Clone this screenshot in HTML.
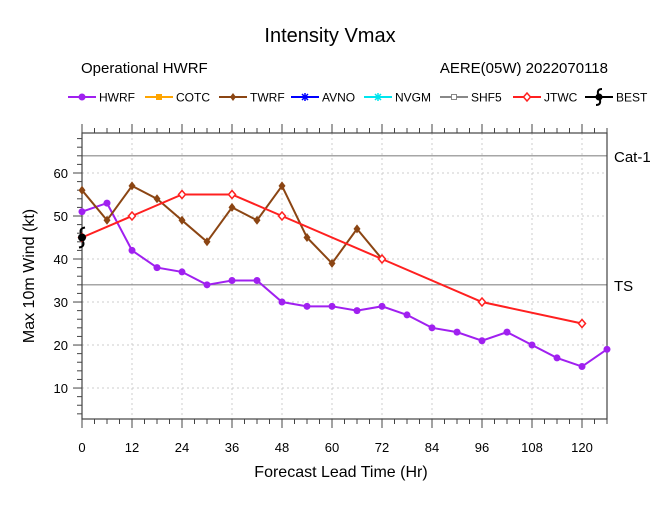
<!DOCTYPE html>
<html><head><meta charset="utf-8"><style>
body{margin:0;background:#fff;font-family:"Liberation Sans",sans-serif;}
svg{display:block}
</style></head><body>
<svg id="c" width="661" height="507" xmlns="http://www.w3.org/2000/svg" font-family="Liberation Sans, sans-serif">
<text x="330" y="42" font-size="20" text-anchor="middle">Intensity Vmax</text>
<text x="81" y="73" font-size="15">Operational HWRF</text>
<text x="608" y="73" font-size="15" text-anchor="end">AERE(05W) 2022070118</text>
<g id="legend"></g>
<g id="plot"></g>
<text x="341" y="477" font-size="16" text-anchor="middle">Forecast Lead Time (Hr)</text>
<text transform="translate(34,276) rotate(-90)" font-size="16" text-anchor="middle">Max 10m Wind (kt)</text>
</svg>
<script>
const hwrfHours=[0,6,12,18,24,30,36,42,48,54,60,66,72,78,84,90,96,102,108,114,120,126];
const hwrfVals=[51,53,42,38,37,34,35,35,30,29,29,28,29,27,24,23,21,23,20,17,15,19];
const twrfHours=[0,6,12,18,24,30,36,42,48,54,60,66,72];
const twrfVals=[56,49,57,54,49,44,52,49,57,45,39,47,40];
const jtwcHours=[0,12,24,36,48,72,96,120];
const jtwcVals=[45,50,55,55,50,40,30,25];
const bestHours=[0];
const bestVals=[45];
const xTicks=[0,12,24,36,48,60,72,84,96,108,120];
const yTicks=[10,20,30,40,50,60];
const X0=82,X1=607,Y0=419,Y1=133,XMIN=0,XMAX=126,YMIN=2.8,YMAX=69.3;
const xs=v=>X0+(v-XMIN)/(XMAX-XMIN)*(X1-X0);
const ys=v=>Y0-(v-YMIN)/(YMAX-YMIN)*(Y0-Y1);
const NS='http://www.w3.org/2000/svg';
const plot=document.getElementById('plot');
function mk(t,a,p){const e=document.createElementNS(NS,t);for(const k in a)e.setAttribute(k,a[k]);(p||plot).appendChild(e);return e;}
// grid
xTicks.forEach(t=>{if(t>0){const g=mk('line',{x1:xs(t),x2:xs(t),y1:Y1,y2:Y0,stroke:'#ccc','stroke-dasharray':'2,3'});

}});
yTicks.forEach(t=>{const g=mk('line',{x1:X0,x2:X1,y1:ys(t),y2:ys(t),stroke:'#ccc','stroke-dasharray':'2,3'});

});
// ref lines
[[64,'Cat-1'],[34,'TS']].forEach(r=>{const l=mk('line',{x1:X0,x2:X1,y1:ys(r[0]),y2:ys(r[0]),stroke:'#888','stroke-width':1.2});


const t=mk('text',{x:614,y:ys(r[0])+6,'font-size':15});t.textContent=r[1];

});
// ticks
for(let h=0;h<=126;h+=3){const maj=h%12==0;const len=maj?9:5;
mk('line',{x1:xs(h),x2:xs(h),y1:Y0,y2:Y0+len,stroke:'#444'});
mk('line',{x1:xs(h),x2:xs(h),y1:Y1,y2:Y1-len,stroke:'#444'});}
for(let v=4;v<=68;v+=2){const maj=v%10==0;mk('line',{x1:X0,x2:X0-(maj?9:5),y1:ys(v),y2:ys(v),stroke:'#444'});}
xTicks.forEach(t=>{const e=mk('text',{x:xs(t),y:Y0+33,'font-size':13,'text-anchor':'middle'});e.textContent=t;

});
yTicks.forEach(t=>{const e=mk('text',{x:X0-14,y:ys(t)+5,'font-size':13,'text-anchor':'end'});e.textContent=t;

});
const box=mk('rect',{x:X0,y:Y1,width:X1-X0,height:Y0-Y1,fill:'none',stroke:'#444','stroke-width':1.2});


function series(hs,vs,color,marker,name){
 const g=mk('g',{});
 
 
 mk('polyline',{points:hs.map((h,i)=>xs(h)+','+ys(vs[i])).join(' '),fill:'none',stroke:color,'stroke-width':2},g);
 hs.forEach((h,i)=>{const x=xs(h),y=ys(vs[i]);let m;
  if(marker=='dot')m=mk('circle',{cx:x,cy:y,r:3.5,fill:color},g);
  else if(marker=='dia')m=mk('path',{d:`M${x},${y-4.5}L${x+3.5},${y}L${x},${y+4.5}L${x-3.5},${y}Z`,fill:color},g);
  else if(marker=='odia')m=mk('path',{d:`M${x},${y-4}L${x+3.5},${y}L${x},${y+4}L${x-3.5},${y}Z`,fill:'#fff',stroke:color,'stroke-width':1.5},g);
  
  });
}
series(hwrfHours,hwrfVals,'#a020f0','dot','hwrf');
series(twrfHours,twrfVals,'#8b4513','dia','twrf');
series(jtwcHours,jtwcVals,'#ff2020','odia','jtwc');
bestHours.forEach((h,i)=>{const x=xs(h),y=ys(bestVals[i]);
 const c=mk('circle',{cx:x,cy:y,r:4,fill:'#000'});
 
 
 mk('path',{d:`M${x-1},${y-4}Q${x-3},${y-9} ${x+3},${y-10}M${x+1},${y+4}Q${x+3},${y+9} ${x-3},${y+10}`,stroke:'#000','stroke-width':2,fill:'none'});});
// legend
const leg=document.getElementById('legend');
const items=[['HWRF','#a020f0','dot',68],['COTC','#ffa500','sq',145],['TWRF','#8b4513','dia',219],['AVNO','#0000ff','star',291],['NVGM','#00e5ee','star',364],['SHF5','#888','osq',440],['JTWC','#ff2020','odia',513],['BEST','#000','best',585]];
items.forEach(it=>{const x=it[3],y=97;const g=mk('g',{},leg);
 
 
 mk('line',{x1:x,x2:x+28,y1:y,y2:y,stroke:it[1],'stroke-width':2},g);
 const cx=x+14;
 if(it[2]=='dot')mk('circle',{cx:cx,cy:y,r:3.5,fill:it[1]},g);
 else if(it[2]=='sq')mk('rect',{x:cx-3,y:y-3,width:6,height:6,fill:it[1]},g);
 else if(it[2]=='dia')mk('path',{d:`M${cx},${y-4}L${cx+3},${y}L${cx},${y+4}L${cx-3},${y}Z`,fill:it[1]},g);
 else if(it[2]=='star')mk('path',{d:`M${cx-3},${y-3}L${cx+3},${y+3}M${cx+3},${y-3}L${cx-3},${y+3}M${cx},${y-4}L${cx},${y+4}`,stroke:it[1],'stroke-width':1.5},g);
 else if(it[2]=='osq')mk('rect',{x:cx-2.5,y:y-2.5,width:5,height:5,fill:'#fff',stroke:it[1]},g);
 else if(it[2]=='odia')mk('path',{d:`M${cx},${y-4}L${cx+3.5},${y}L${cx},${y+4}L${cx-3.5},${y}Z`,fill:'#fff',stroke:it[1],'stroke-width':1.5},g);
 else{mk('circle',{cx:cx,cy:y,r:3.5,fill:'#000'},g);mk('path',{d:`M${cx-1},${y-3}Q${cx-2},${y-8} ${cx+3},${y-8}M${cx+1},${y+3}Q${cx+2},${y+8} ${cx-3},${y+8}`,stroke:'#000','stroke-width':2,fill:'none'},g);}
 const t=mk('text',{x:x+31,y:y+4.5,'font-size':12},g);t.textContent=it[0];});
</script>
</body></html>
